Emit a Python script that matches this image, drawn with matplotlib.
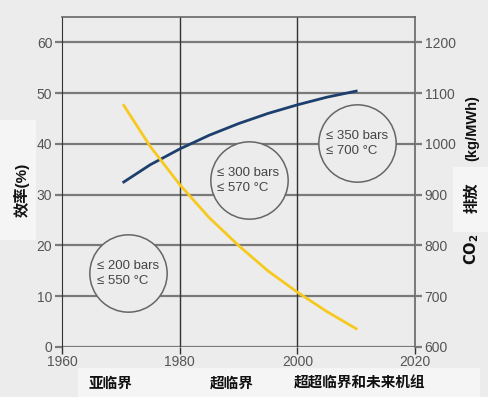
import matplotlib.pyplot as plt
from matplotlib.patches import Rectangle

plt.rcParams['font.family'] = ['Liberation Sans', 'Noto Sans CJK SC', 'DejaVu Sans']

# 数据
years_eff = [1970.5, 1975, 1980, 1985, 1990, 1995, 2000, 2005, 2010]
efficiency = [32.5, 35.9, 39.0, 41.7, 44.0, 46.0, 47.7, 49.2, 50.4]

years_co2 = [1970.5, 1975, 1980, 1985, 1990, 1995, 2000, 2005, 2010]
co2 = [1076, 995, 920, 855, 800, 750, 708, 670, 636]

circle_x = [1971.2, 1991.7, 2010.2]
circle_y = [14.5, 32.8, 40.1]
circle_text = ['≤ 200 bars\n≤ 550 °C', '≤ 300 bars\n≤ 570 °C', '≤ 350 bars\n≤ 700 °C']

era_labels = ['亚临界', '超临界', '超超临界和未来机组']
era_x = [110, 232, 360]

bg = '#ececec'
box = '#f5f5f5'
tick_col = '#555555'

fig = plt.figure(figsize=(4.88, 3.97), dpi=100, facecolor=bg)
ax = fig.add_axes([62/488, 1-347/397, (415-62)/488, (347-17)/397])
ax.set_facecolor(bg)

ax.set_xlim(1960, 2020)
ax.set_ylim(0, 65)
ax.set_xticks([1960, 1980, 2000, 2020])
ax.set_yticks([0, 10, 20, 30, 40, 50, 60])

# 网格线
for y in [0, 10, 20, 30, 40, 50, 60]:
    ax.axhline(y, color='#7a7a7a', lw=1.6, zorder=1)
for x in [1980, 2000]:
    ax.axvline(x, color='#333333', lw=1.0, zorder=1)

for s in ['top', 'right']:
    ax.spines[s].set_color('#666666')
    ax.spines[s].set_linewidth(1.2)
ax.spines['left'].set_color('#333333')
ax.spines['bottom'].set_visible(False)

ax.tick_params(axis='y', direction='out', length=5, width=1.6, color='#7a7a7a',
               labelcolor=tick_col, labelsize=10, pad=2)
ax.tick_params(axis='x', direction='out', length=5, width=1.0, color='#333333',
               labelcolor=tick_col, labelsize=10, pad=1)

# 圆圈标注
ax.scatter(circle_x, circle_y, s=3100, facecolor=bg, edgecolor='#666666',
           linewidth=1.1, zorder=2, clip_on=False)
for cx, cy, t in zip(circle_x, circle_y, circle_text):
    ax.text(cx, cy, t, ha='center', va='center', fontsize=9.5, color='#444444',
            multialignment='left', zorder=3, linespacing=1.3)

ax.plot(years_eff, efficiency, color='#1c3f6e', lw=2, zorder=4)

ax2 = ax.twinx()
ax2.set_ylim(600, 1250)
ax2.set_yticks([600, 700, 800, 900, 1000, 1100, 1200])
ax2.tick_params(axis='y', direction='out', length=5, width=1.6, color='#7a7a7a',
                labelcolor=tick_col, labelsize=10, pad=2)
for s in ax2.spines.values():
    s.set_visible(False)
ax2.plot(years_co2, co2, color='#f7c91f', lw=2, zorder=4)

# 白色底框
fig.patches.append(Rectangle((0, 1-240/397), 36/488, 120/397, transform=fig.transFigure,
                             facecolor=box, edgecolor='none', zorder=0))
fig.patches.append(Rectangle((453/488, 1-232/397), 35/488, 65/397, transform=fig.transFigure,
                             facecolor=box, edgecolor='none', zorder=0))
fig.patches.append(Rectangle((78/488, 0), (480-78)/488, 29/397, transform=fig.transFigure,
                             facecolor=box, edgecolor='none', zorder=0))

# 轴标题
fig.text(22/488, 1-190/397, '效率(%)', rotation=90, ha='center', va='center',
         fontsize=11, fontweight='bold', color='#111111')
fig.text(472/488, 1-249/397, r'$\mathbf{CO_2}$', rotation=90, ha='center', va='center',
         fontsize=10.5, color='#111111')
fig.text(472/488, 1-198/397, '排放', rotation=90, ha='center', va='center',
         fontsize=11, fontweight='bold', color='#111111')
fig.text(472/488, 1-128/397, '(kg/MWh)', rotation=90, ha='center', va='center',
         fontsize=10.5, fontweight='bold', color='#111111')

for lab, x in zip(era_labels, era_x):
    fig.text(x/488, 1-384/397, lab, ha='center', va='center', fontsize=10.5,
             fontweight='bold', color='#111111')

fig.savefig('out.png', dpi=100, facecolor=bg)
